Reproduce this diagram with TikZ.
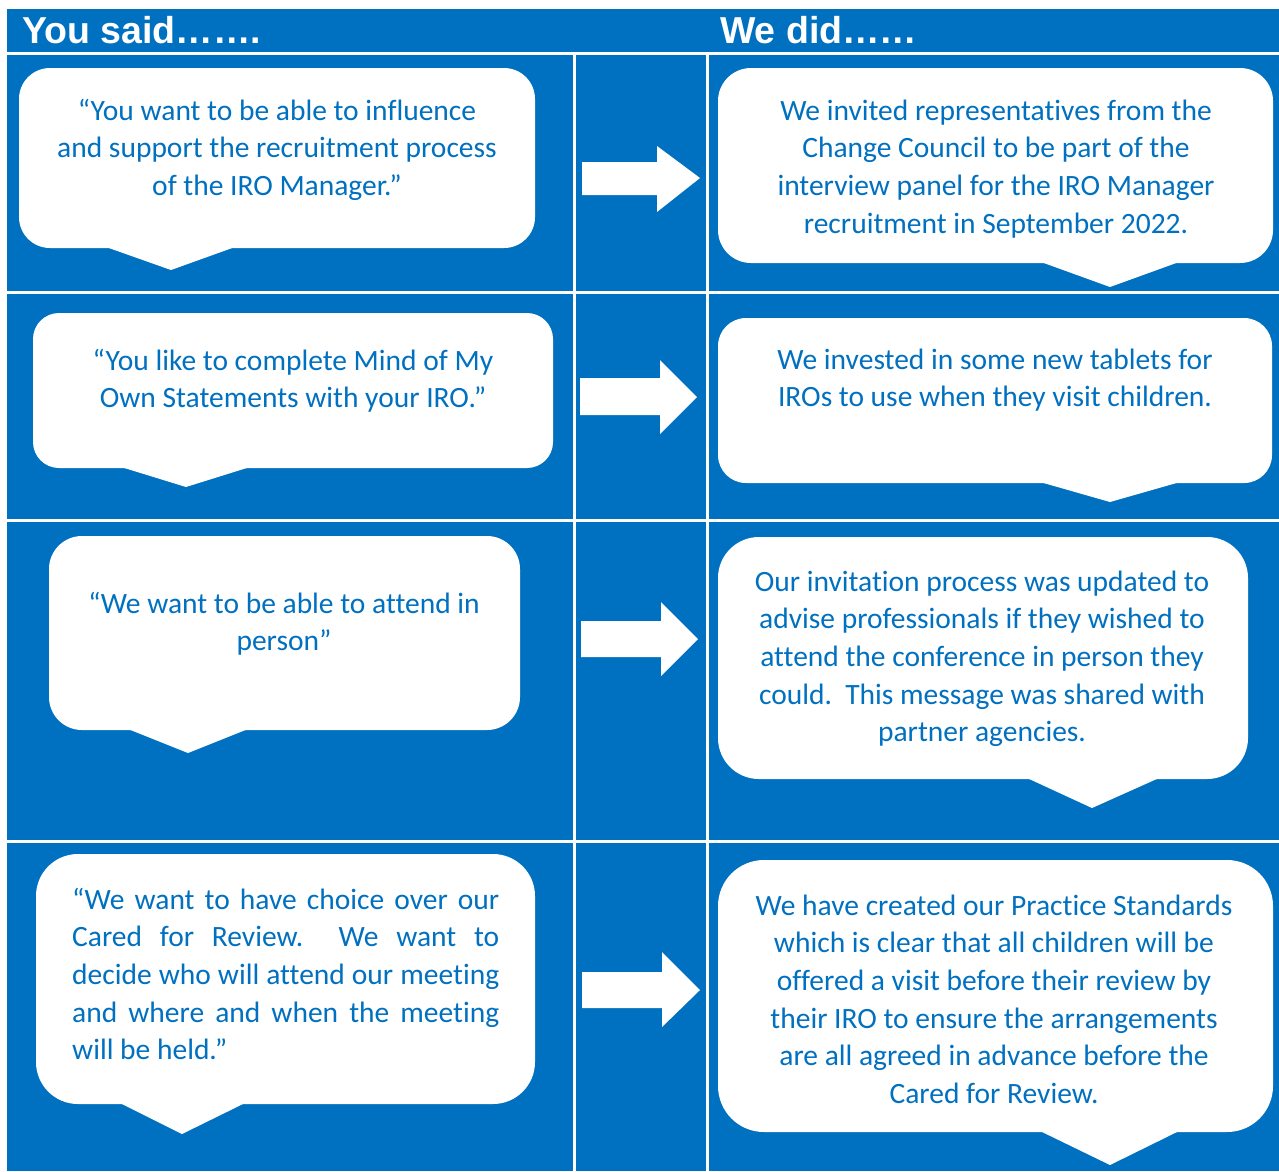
\documentclass[tikz,border=0pt]{standalone}
\usepackage{fontspec}
\setmainfont{Carlito}[Ligatures=NoCommon]
\newfontfamily\headfont{Liberation Sans}
\definecolor{cblue}{HTML}{0070C0}
\newcommand\mybubble[9]{%
  \fill[white, rounded corners=#5] (#1,#2) rectangle (#3,#4);
  \fill[white] (#6,#4-1) -- (#7,#8) -- (#9,#4-1) -- cycle;}
\newcommand\myarrow[8]{%
  \fill[white] (#1,#2) -- (#4,#2) -- (#4,#5) -- (#7,#8) -- (#4,#6) -- (#4,#3) -- (#1,#3) -- cycle;}
\begin{document}
\begin{tikzpicture}[x=1pt,y=-1pt,
  said/.style={text=cblue, font=\fontsize{29.5}{37.7}\selectfont, align=center, inner sep=0pt, anchor=base},
  head/.style={text=white, font=\headfont\bfseries\fontsize{37.5}{40}\selectfont, inner sep=0pt, anchor=base west},
  grid/.style={white, line width=3pt}]
\useasboundingbox (0,0) rectangle (1279,1171);
\fill[white] (0,0) rectangle (1279,1171);
\fill[cblue] (7,9) rectangle (1279,1171);
% grid
\draw[grid] (7,53) -- (1279,53);
\draw[grid] (7,292) -- (1279,292);
\draw[grid] (7,520) -- (1279,520);
\draw[grid] (7,841) -- (1279,841);
\draw[grid] (574,54) -- (574,1171);
\draw[grid] (707,54) -- (707,1171);
% header
\node[head] (h1) at (22,43) {You said…….};
\node[head] (h2) at (720,43) {We did……};
% bubbles
\mybubble{19}{68}{535}{248}{31}{106}{171}{270}{235}
\mybubble{718}{68}{1273}{263}{33}{1041}{1110}{287}{1179}
\mybubble{33}{313}{553}{468}{26}{121}{186}{487}{250}
\mybubble{718}{318}{1272}{483}{28}{1040}{1110}{502}{1180}
\mybubble{49}{536}{520}{730}{33}{128}{188}{753}{248}
\mybubble{718}{537}{1248}{779}{41}{1027}{1092}{808}{1159}
\mybubble{36}{854}{535}{1104}{42}{120}{182}{1134}{245}
\mybubble{718}{860}{1273}{1132}{46}{1040}{1110}{1165}{1179}
% arrows
\myarrow{582}{162}{195}{657}{146}{212}{700}{178}
\myarrow{580}{378}{415}{660}{360}{434}{697}{397}
\myarrow{581}{621}{657}{661}{602}{676}{698}{639}
\myarrow{582}{972}{1008}{662}{952}{1027}{700}{990}
% texts (anchor base = baseline of last line)
\node[said] (s1) at (277,195.4) {“You want to be able to influence\\and support the recruitment process\\of the IRO Manager.”};
\node[said] (d1) at (996,233.1) {We invited representatives from the\\Change Council to be part of the\\interview panel for the IRO Manager\\recruitment in September 2022.};
\node[said] (s2) at (293,407.7) {“You like to complete Mind of My\\Own Statements with your IRO.”};
\node[said] (d2) at (995,406.7) {We invested in some new tablets for\\IROs to use when they visit children.};
\node[said] (s3) at (284,650.7) {“We want to be able to attend in\\person”};
\node[said] (d3) at (982,741.8) {Our invitation process was updated to\\advise professionals if they wished to\\attend the conference in person they\\could.\ \ This message was shared with\\partner agencies.};
\node[said, align=left, anchor=base west] (s4) at (72,1059.8) {\makebox[427pt][s]{“We want to have choice over our}\\\makebox[427pt][s]{Cared for Review.\ \ We want to}\\\makebox[427pt][s]{decide who will attend our meeting}\\\makebox[427pt][s]{and where and when the meeting}\\will be held.”};
\node[said] (d4) at (994,1103.5) {We have created our Practice Standards\\which is clear that all children will be\\offered a visit before their review by\\their IRO to ensure the arrangements\\are all agreed in advance before the\\Cared for Review.};
\end{tikzpicture}
\end{document}
